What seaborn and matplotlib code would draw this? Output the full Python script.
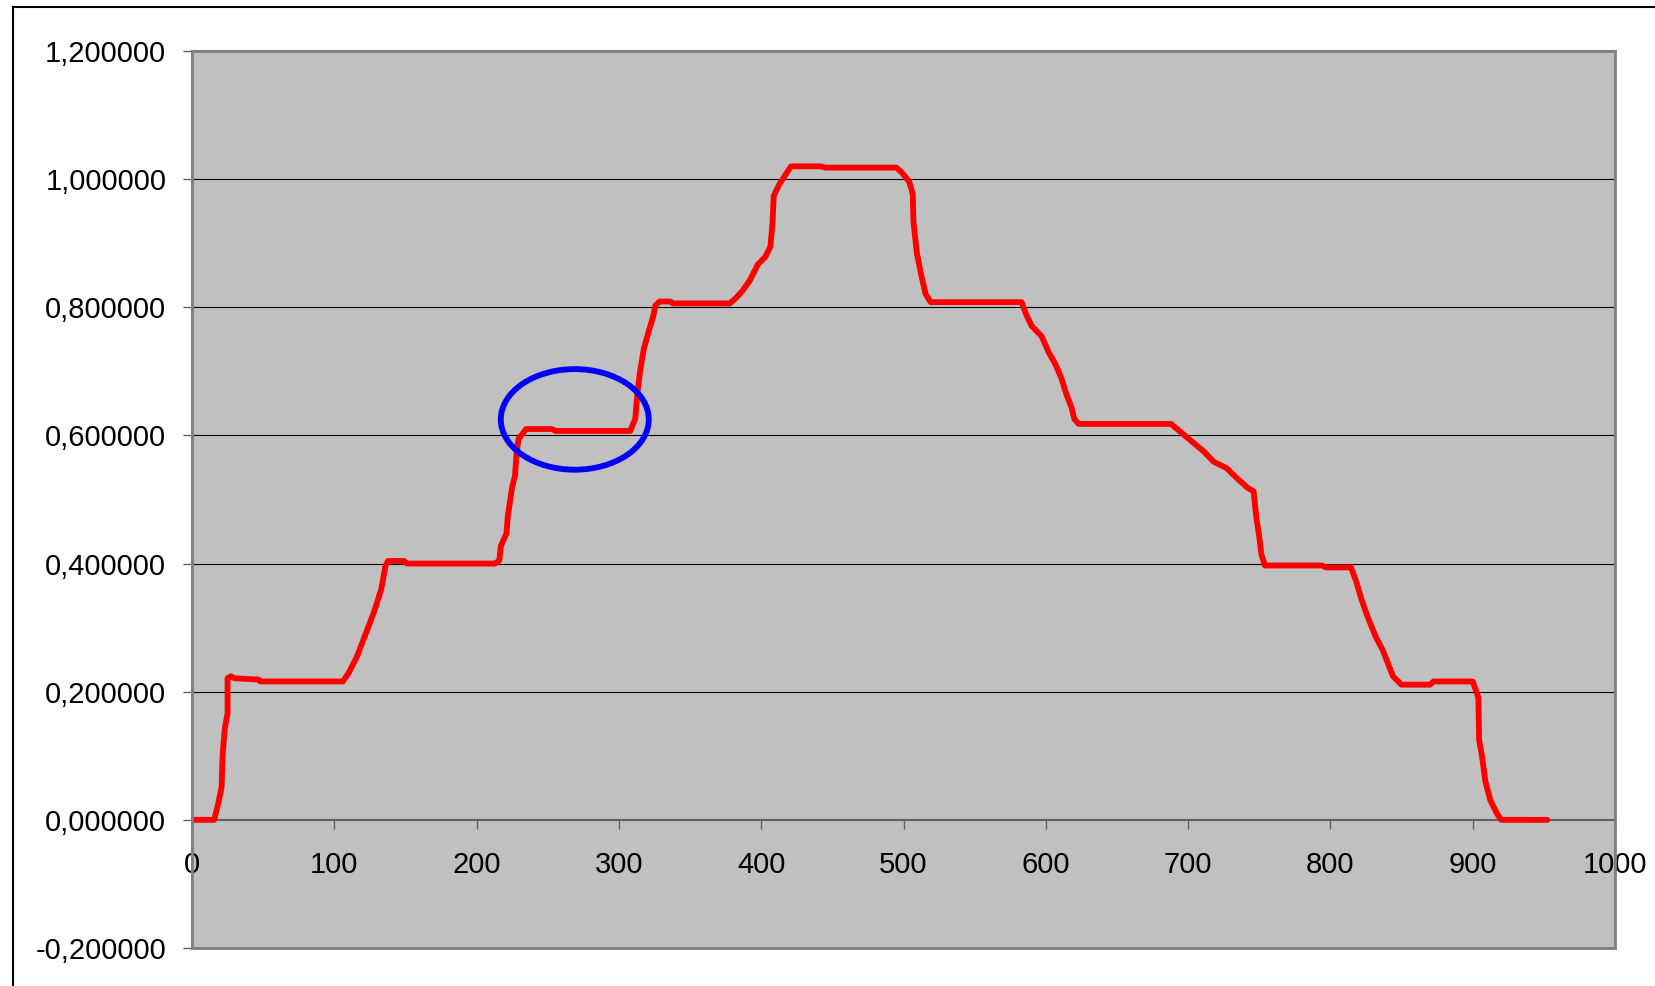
import matplotlib
matplotlib.use("Agg")
import matplotlib.pyplot as plt
import seaborn as sns
import pandas as pd
from matplotlib.patches import Ellipse, Rectangle
from matplotlib.lines import Line2D
from matplotlib.ticker import FuncFormatter

# data
pos = [0, 15.6, 18.5, 20.8, 21.5, 23, 25, 25, 27.4, 29.7, 46.7, 48, 106, 110,
       116, 122, 128, 133, 136, 137.7, 149, 151, 213, 216, 217, 221, 222, 225,
       227, 228, 229.5, 232.5, 234.7, 253, 255.5, 308, 310, 311.5, 313, 315,
       317.5, 321, 324, 325.7, 328.6, 336, 338, 378, 382, 387, 392, 397.7, 403,
       406.5, 408, 408.8, 412.5, 418, 421, 442, 445, 495, 499, 504, 506.5, 507,
       509.5, 512.5, 515.5, 519, 583, 586, 590, 597, 602, 607, 611, 614.5, 618,
       620, 623, 688, 696, 711, 718, 727, 734, 742, 746, 748, 750, 751.5, 754,
       794, 797, 814.5, 818, 822, 826.5, 832, 837, 841, 844, 850, 870, 872.5,
       900, 904, 904.5, 906.7, 909, 912.5, 917, 920, 952.5]
val = [0, 0, 0.026, 0.051, 0.10, 0.142, 0.166, 0.221, 0.224, 0.221, 0.219,
       0.216, 0.216, 0.229, 0.255, 0.29, 0.325, 0.36, 0.397, 0.404, 0.404, 0.40,
       0.40, 0.405, 0.427, 0.447, 0.475, 0.52, 0.537, 0.57, 0.595, 0.603, 0.61,
       0.61, 0.607, 0.607, 0.618, 0.626, 0.666, 0.702, 0.735, 0.763, 0.785,
       0.803, 0.809, 0.809, 0.806, 0.806, 0.814, 0.826, 0.842, 0.867, 0.879,
       0.895, 0.933, 0.974, 0.991, 1.01, 1.02, 1.02, 1.018, 1.018, 1.01, 0.996,
       0.977, 0.933, 0.883, 0.85, 0.821, 0.808, 0.808, 0.79, 0.771, 0.755, 0.73,
       0.71, 0.689, 0.664, 0.644, 0.626, 0.618, 0.618, 0.603, 0.575, 0.559,
       0.549, 0.534, 0.518, 0.513, 0.471, 0.442, 0.414, 0.397, 0.397, 0.394,
       0.394, 0.373, 0.343, 0.315, 0.285, 0.264, 0.241, 0.224, 0.211, 0.211,
       0.216, 0.216, 0.191, 0.125, 0.097, 0.059, 0.03, 0.01, 0, 0]

yticks = [-0.2, 0, 0.2, 0.4, 0.6, 0.8, 1.0, 1.2]
xticks = [0, 100, 200, 300, 400, 500, 600, 700, 800, 900, 1000]
# highlighted region (centre x, centre y, width, height)
circle = (269, 0.625, 104, 0.157)

df = pd.DataFrame({"pos": pos, "val": val})

plt.rcParams['font.family'] = ['Liberation Sans', 'DejaVu Sans']

fig = plt.figure(figsize=(16.55, 9.86), dpi=100)
ax = fig.add_axes([192/1655, 1-948/986, (1615-192)/1655, (948-51)/986])
ax.set_facecolor("#c0c0c0")

for v in yticks[2:-1]:
    ax.axhline(v, color="black", lw=0.8, zorder=1)

sns.lineplot(data=df, x="pos", y="val", sort=False, estimator=None,
             color="#ff0000", lw=4.2, ax=ax, zorder=3,
             solid_joinstyle="round", solid_capstyle="round")

ax.add_patch(Ellipse((circle[0], circle[1]), circle[2], circle[3],
                     fill=False, edgecolor="#0000ff", lw=4.2, zorder=4))

ax.set_xlim(0, 1000)
ax.set_ylim(-0.2, 1.2)
ax.set_xticks(xticks)
ax.set_yticks(yticks)
ax.yaxis.set_major_formatter(FuncFormatter(lambda v, p: f"{v:.6f}".replace(".", ",")))
ax.set_xlabel("")
ax.set_ylabel("")

ax.spines["bottom"].set_position(("data", 0))
for s in ax.spines.values():
    s.set_color("#808080")
    s.set_linewidth(1.5)
ax.spines["bottom"].set_color("#606060")
ax.add_patch(Rectangle((0, 0), 1, 1, transform=ax.transAxes, fill=False,
                       edgecolor="#808080", lw=2, zorder=5, clip_on=False))

ax.tick_params(axis="y", direction="out", length=6.5, width=1, color="#606060",
               labelsize=21, pad=12)
ax.tick_params(axis="x", direction="out", length=6.5, width=1, color="#606060",
               labelsize=21, pad=16)

# outer chart frame
fig.add_artist(Line2D([13/1655, 1], [1-7/986, 1-7/986], color="black", lw=1.5))
fig.add_artist(Line2D([13/1655, 13/1655], [0, 1-7/986], color="black", lw=1.5))

fig.savefig("out.png", dpi=100)
